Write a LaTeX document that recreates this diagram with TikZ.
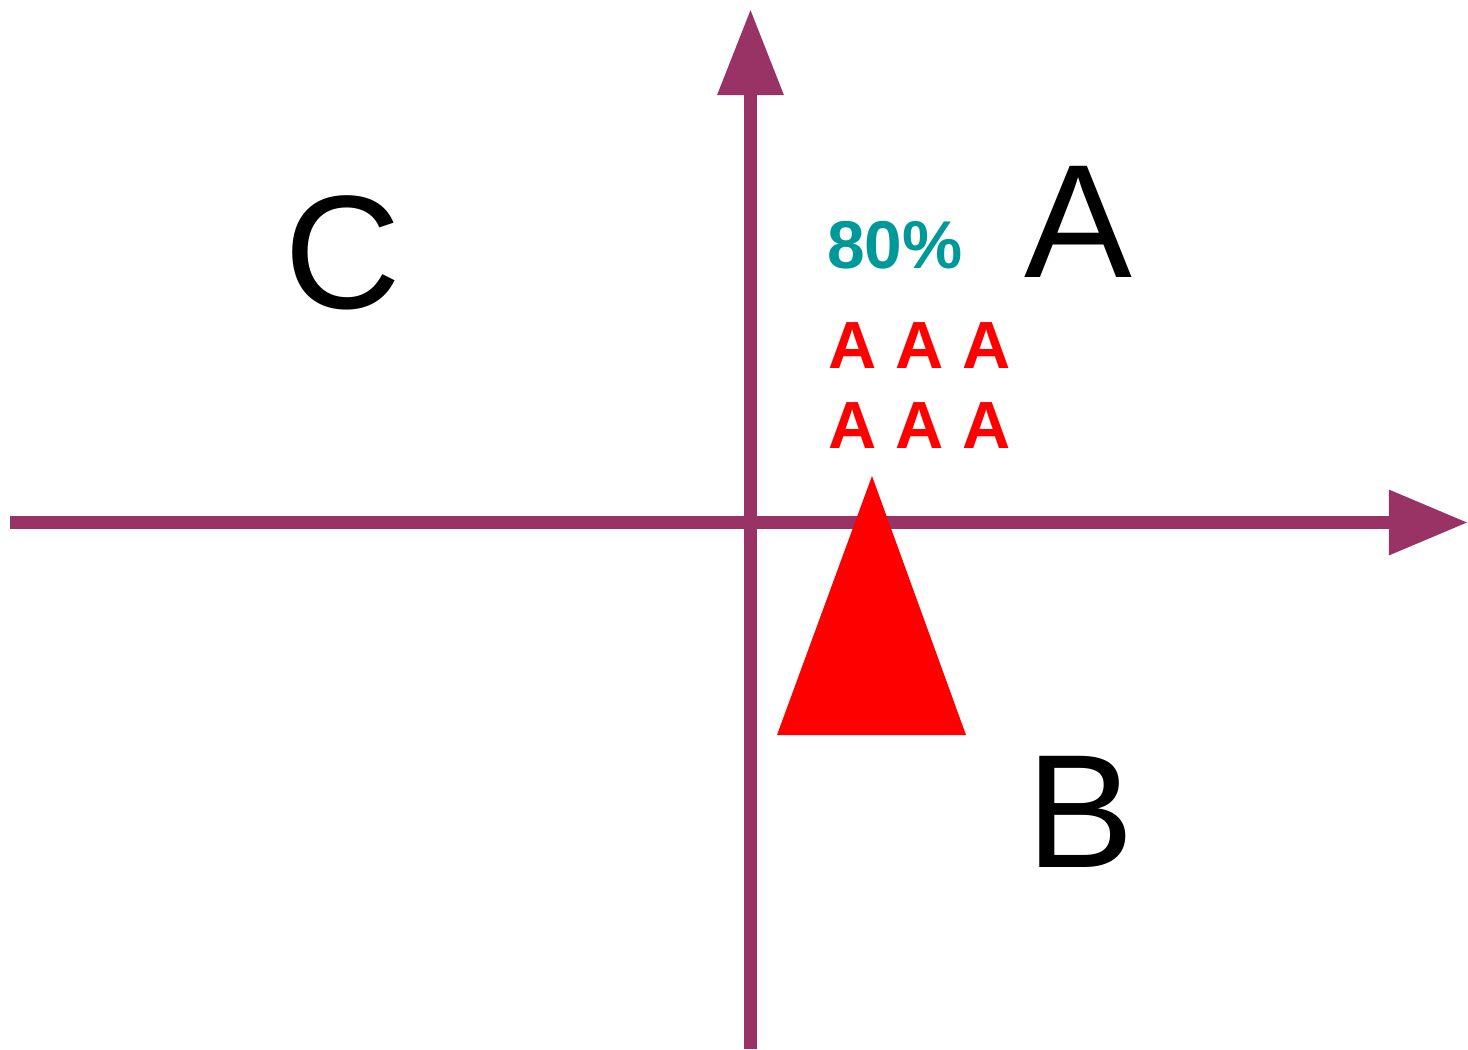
\documentclass[tikz,border=0pt]{standalone}
\usepackage{fontspec}
\setmainfont{Liberation Sans}
\usetikzlibrary{arrows.meta}
\definecolor{axiscol}{HTML}{993366}
\definecolor{tealcol}{HTML}{009999}
\tikzset{
  axisline/.style={draw=axiscol, line width=7.4pt},
  bigletter/.style={anchor=base, inner sep=0pt, font=\fontsize{92}{92}\selectfont},
  pct/.style={anchor=base, inner sep=0pt, text=tealcol, font=\fontsize{38.5}{39}\selectfont\bfseries},
  redrow/.style={anchor=base, inner sep=0pt, text=red, font=\fontsize{38}{38}\selectfont\bfseries},
}
\begin{document}
\begin{tikzpicture}[x=0.02cm, y=-0.02cm]
\useasboundingbox (0,0) rectangle (1468,1049);
\coordinate (xstart) at (10,522.5);
\coordinate (xend) at (1468,522.5);
\coordinate (ystart) at (750.5,1049);
\coordinate (yend) at (750.5,9);
\draw[axisline, -{Triangle[length=45pt, width=35.3pt]}] (xstart) -- (xend);
\draw[axisline, -{Triangle[length=49pt, width=35.9pt]}] (ystart) -- (yend);
\fill[red] (872,476) -- (966,735) -- (777,735) -- cycle;
\node[bigletter] (C) at (343,308) {C};
\node[bigletter] (A) at (1078,277) {A};
\node[bigletter] (B) at (1080,867) {B};
\node[pct] (p) at (895,268) {80\%};
\node[redrow] (r1) at (919.5,368) {A A A};
\node[redrow] (r2) at (919.5,448) {A A A};
\end{tikzpicture}
\end{document}
